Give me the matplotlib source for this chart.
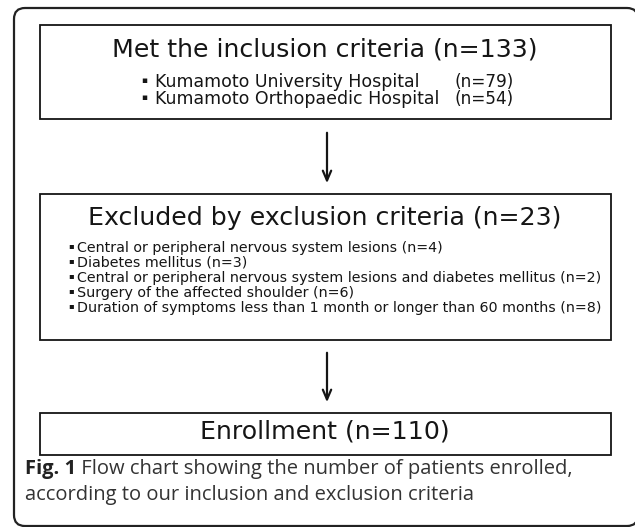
import matplotlib
matplotlib.use("Agg")
import matplotlib.pyplot as plt
from matplotlib.patches import FancyBboxPatch, Rectangle

# chart text
step_titles = ["Met the inclusion criteria (n=133)",
               "Excluded by exclusion criteria (n=23)",
               "Enrollment (n=110)"]
hospitals = ["Kumamoto University Hospital", "Kumamoto Orthopaedic Hospital"]
hospital_counts = ["(n=79)", "(n=54)"]
exclusions = ["Central or peripheral nervous system lesions (n=4)",
              "Diabetes mellitus (n=3)",
              "Central or peripheral nervous system lesions and diabetes mellitus (n=2)",
              "Surgery of the affected shoulder (n=6)",
              "Duration of symptoms less than 1 month or longer than 60 months (n=8)"]
caption_bold = "Fig. 1"
caption_lines = [" Flow chart showing the number of patients enrolled,",
                 "according to our inclusion and exclusion criteria"]

W, H = 635, 527
fig = plt.figure(figsize=(W / 100, H / 100), dpi=100)
ax = fig.add_axes([0, 0, 1, 1])
ax.set_xlim(0, W)
ax.set_ylim(H, 0)
ax.axis("off")

ink = "#151515"
box_font = "DejaVu Sans"

# outer rounded frame (runs off the right edge like the original)
ax.add_patch(FancyBboxPatch((14, 8), 624, 518,
                            boxstyle="round,pad=0,rounding_size=11",
                            fc="white", ec="#222222", lw=1.6))

# step boxes
boxes = [(25, 119), (194, 340), (413, 455)]
for top, bot in boxes:
    ax.add_patch(Rectangle((40, top), 571, bot - top,
                           fc="none", ec=ink, lw=1.3))

# arrows
for y0, y1 in [(130, 186), (350, 405)]:
    ax.annotate("", xy=(327, y1), xytext=(327, y0),
                arrowprops=dict(arrowstyle="->,head_length=0.7,head_width=0.3",
                                color=ink, lw=1.6))

# titles
title_y = [56, 225, 438]
for t, y in zip(step_titles, title_y):
    ax.text(325, y, t, ha="center", va="baseline", fontsize=18.2,
            family=box_font, color=ink)

# hospitals in first box
for i, (h, n) in enumerate(zip(hospitals, hospital_counts)):
    y = 87 + i * 17
    ax.text(144, y - 4, "\u25aa", ha="center", va="baseline", fontsize=6.5,
            family=box_font, color=ink)
    ax.text(155, y, h, ha="left", va="baseline", fontsize=12.5,
            family=box_font, color=ink)
    ax.text(455, y, n, ha="left", va="baseline", fontsize=12.2,
            family=box_font, color=ink)

# exclusion reasons
for i, e in enumerate(exclusions):
    y = 252 + i * 15
    ax.text(71, y - 3.5, "\u25aa", ha="center", va="baseline", fontsize=6,
            family=box_font, color=ink)
    ax.text(77, y, e, ha="left", va="baseline", fontsize=10.3,
            family=box_font, color=ink)

# caption
cap = ax.text(25, 474, caption_bold, ha="left", va="baseline", fontsize=14.5,
              family="Open Sans", weight="bold", color="#222222")
ax.annotate(caption_lines[0], xy=(1, 0), xycoords=cap, ha="left",
            va="bottom", fontsize=14.5, family="Open Sans", color="#333333")
ax.text(25, 500, caption_lines[1], ha="left", va="baseline", fontsize=14.5,
        family="Open Sans", color="#333333")

fig.savefig("out.png", dpi=100)
